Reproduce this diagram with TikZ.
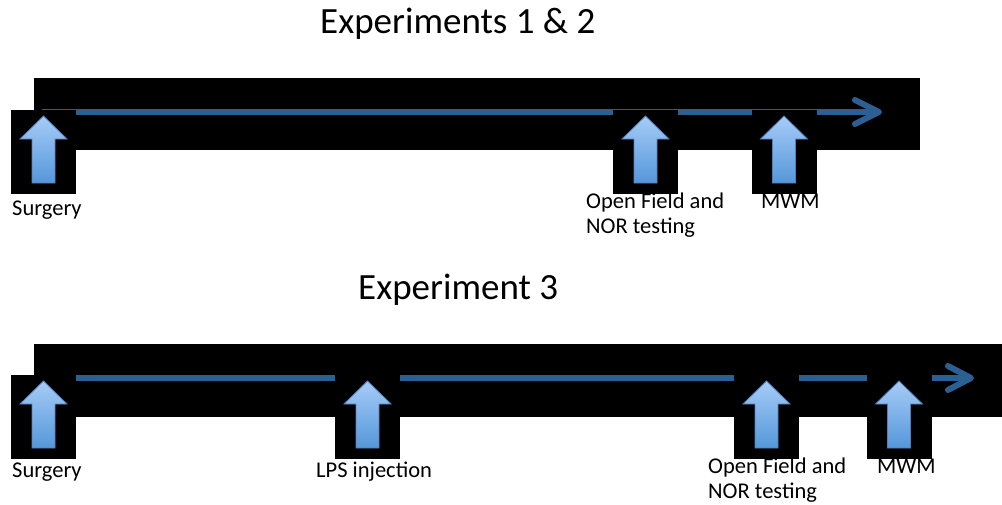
\documentclass[tikz,border=0pt]{standalone}
\usepackage{fontspec}
\setmainfont{Carlito}
\begin{document}
\begin{tikzpicture}[x=1pt,y=-1pt,
  band/.style={fill=black},
  slot/.style={fill=black},
  timeline/.style={draw=tlblue,line width=6.5pt},
  barb/.style={draw=tlblue,line width=6pt,line cap=round,line join=round},
  uparrow/.style={draw=arrowedge,line width=0.8pt,top color=arrowtop,bottom color=arrowbot},
  lbl/.style={anchor=base west,inner sep=0pt,font=\fontsize{22.5}{25}\selectfont,text=black},
  ttl/.style={anchor=base west,inner sep=0pt,font=\fontsize{37}{42}\selectfont,text=black},
  ]
\definecolor{tlblue}{HTML}{2C5F92}
\definecolor{arrowtop}{HTML}{A6CCF7}
\definecolor{arrowbot}{HTML}{5597DA}
\definecolor{arrowedge}{HTML}{4F80BD}
\useasboundingbox (0,0) rectangle (1002,504);
\fill[white] (0,0) rectangle (1002,504);

% up-pointing block arrow inside a black slot; #1 = centre x, #2 = slot top y
\newcommand{\markslot}[3]{%
  \fill[slot] (#1-32.5,#2) rectangle (#1+32.5,#2+84);
  \path[uparrow] (#1,#2+6) -- (#1+23.5,#2+29) -- (#1+11.5,#2+29) -- (#1+11.5,#2+73)
     -- (#1-11.5,#2+73) -- (#1-11.5,#2+29) -- (#1-23.5,#2+29) -- cycle;
  \coordinate (#3) at (#1,#2);
}

% ---------------- Experiments 1 & 2 ----------------
\node[ttl] (t1) at (320,33) {Experiments 1 \& 2};
\fill[band] (34,78) rectangle (920,150);
\coordinate (s1) at (42,112);
\coordinate (e1) at (879,112);
\draw[timeline] (s1) -- (e1);
\draw[barb] (855,100) -- (e1) -- (855,124);
\markslot{43.5}{110}{a1}
\markslot{645.5}{110}{a2}
\markslot{784}{110}{a3}
\node[lbl] (l1) at (12,215) {Surgery};
\node[lbl,align=left] (l2) at (586,233) {Open Field and\\NOR testing};
\node[lbl] (l3) at (761,208) {MWM};

% ---------------- Experiment 3 ----------------
\node[ttl] (t2) at (358,299) {Experiment 3};
\fill[band] (34,344) rectangle (1002,417);
\coordinate (s2) at (42,378);
\coordinate (e2) at (971,378);
\draw[timeline] (s2) -- (e2);
\draw[barb] (948,366) -- (e2) -- (948,390);
\markslot{43.5}{375}{b1}
\markslot{367.5}{375}{b2}
\markslot{766.5}{375}{b3}
\markslot{899}{375}{b4}
\node[lbl] (m1) at (12,477) {Surgery};
\node[lbl] (m2) at (316,477) {LPS injection};
\node[lbl,align=left] (m3) at (708,498) {Open Field and\\NOR testing};
\node[lbl] (m4) at (877,473) {MWM};
\end{tikzpicture}
\end{document}
